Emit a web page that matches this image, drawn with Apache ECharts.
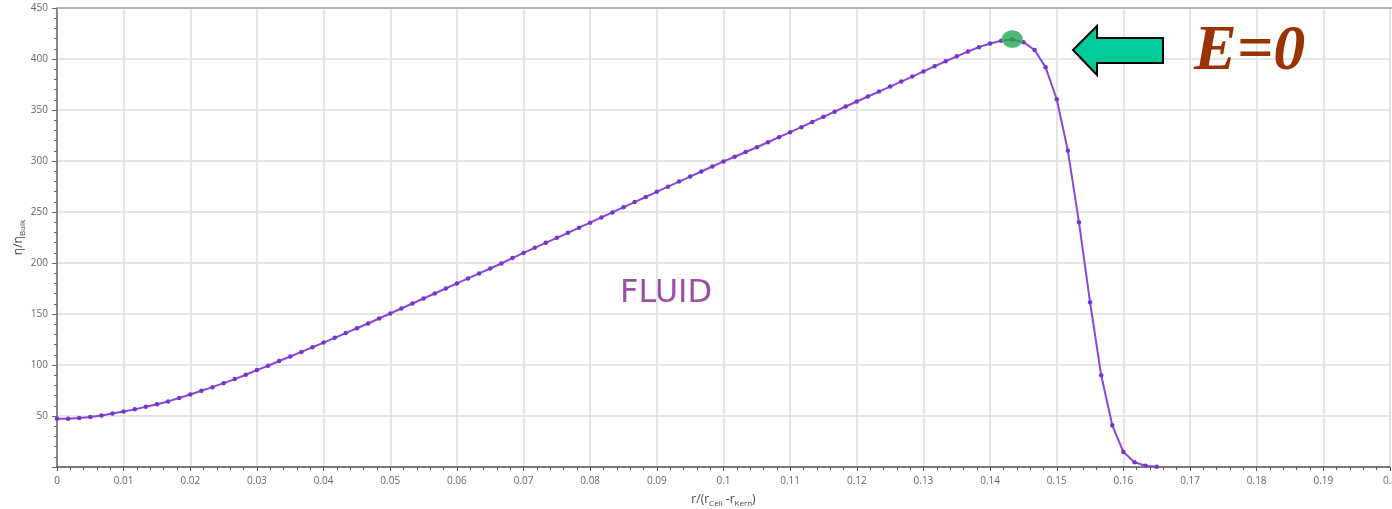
<!DOCTYPE html>
<html>
<head>
<meta charset="utf-8">
<script src="https://cdn.jsdelivr.net/npm/echarts/dist/echarts.min.js"></script>
<style>
html,body{margin:0;padding:0;background:#fff;}
#chart{width:1392px;height:509px;}
</style>
</head>
<body>
<div id="chart"></div>
<script>
// r/(rCell - rKern) sample positions
var rValues = [0, 0.00167, 0.00333, 0.005, 0.00667, 0.00833, 0.01, 0.01167, 0.01333, 0.015,
  0.01667, 0.01833, 0.02, 0.02167, 0.02333, 0.025, 0.02667, 0.02833, 0.03, 0.03167,
  0.03333, 0.035, 0.03667, 0.03833, 0.04, 0.04167, 0.04333, 0.045, 0.04667, 0.04833,
  0.05, 0.05167, 0.05333, 0.055, 0.05667, 0.05833, 0.06, 0.06167, 0.06333, 0.065,
  0.06667, 0.06833, 0.07, 0.07167, 0.07333, 0.075, 0.07667, 0.07833, 0.08, 0.08167,
  0.08333, 0.085, 0.08667, 0.08833, 0.09, 0.09167, 0.09333, 0.095, 0.09667, 0.09833,
  0.1, 0.10167, 0.10333, 0.105, 0.10667, 0.10833, 0.11, 0.11167, 0.11333, 0.115,
  0.11667, 0.11833, 0.12, 0.12167, 0.12333, 0.125, 0.12667, 0.12833, 0.13, 0.13167,
  0.13333, 0.135, 0.13667, 0.13833, 0.14, 0.14167, 0.14333, 0.145, 0.14667, 0.14833,
  0.15, 0.15167, 0.15333, 0.155, 0.15667, 0.15833, 0.16, 0.16167, 0.16333, 0.165];

// eta/eta_Bulk values
var etaValues = [47.2, 47.4, 48.1, 49.1, 50.5, 52.4, 54.4, 56.5, 59.0, 61.6,
  64.3, 67.6, 71.1, 74.7, 78.3, 82.2, 86.2, 90.4, 95.0, 99.3,
  103.9, 108.3, 112.8, 117.4, 122.0, 126.6, 131.3, 136.0, 140.7, 145.6,
  150.5, 155.4, 160.3, 165.2, 170.1, 175.0, 180.0, 184.9, 189.8, 194.6,
  199.5, 204.8, 209.9, 214.9, 219.8, 224.7, 229.6, 234.6, 239.5, 244.7,
  249.6, 254.7, 259.7, 264.7, 269.8, 274.8, 279.8, 284.7, 289.7, 294.6,
  299.6, 304.2, 308.8, 313.5, 318.4, 323.4, 328.3, 333.2, 338.3, 343.3,
  348.4, 353.4, 358.3, 363.2, 368.1, 373.0, 377.9, 382.8, 387.8, 392.8,
  397.8, 402.6, 407.3, 411.6, 415.2, 417.8, 419.2, 416.5, 408.8, 391.8,
  360.5, 310.0, 240.0, 161.5, 89.9, 40.9, 14.7, 4.6, 1.3, 0.3];

// marked point E=0
var eZeroPoint = [0.14333, 419.5];

var xTickInterval = 0.01;
var yTickInterval = 50;

var seriesData = rValues.map(function (r, i) { return [r, etaValues[i]]; });

var chart = echarts.init(document.getElementById('chart'), null, {renderer: 'canvas'});
var fontFam = '"Open Sans", "DejaVu Sans", sans-serif';

chart.setOption({
  animation: false,
  backgroundColor: '#ffffff',
  grid: {left: 57, right: 2, top: 8, bottom: 42, show: false, containLabel: false, outerBoundsMode: 'none'},
  xAxis: {
    type: 'value', min: 0, max: 0.2, interval: xTickInterval,
    name: '{n|r/(r}{s|Cell}{n| -r}{s|Kern}{n|)}',
    nameLocation: 'middle', nameGap: 27,
    nameTextStyle: {
      rich: {
        n: {fontSize: 12, fontFamily: fontFam, color: '#444', lineHeight: 14, verticalAlign: 'top'},
        s: {fontSize: 8, fontFamily: fontFam, color: '#444', lineHeight: 8, padding: [8, 0, 0, 0], verticalAlign: 'bottom'}
      }
    },
    axisLine: {show: true, onZero: false, lineStyle: {color: '#555', width: 1.5}},
    axisTick: {show: true, length: 4, lineStyle: {color: '#555'}},
    minorTick: {show: true, splitNumber: 5, length: 3, lineStyle: {color: '#555'}},
    axisLabel: {
      margin: 9, fontSize: 10, color: '#666', fontFamily: fontFam,
      formatter: function (v) { return String(+v.toFixed(2)); }
    },
    splitLine: {show: true, lineStyle: {color: '#dcdcdc', width: 1.5}}
  },
  yAxis: {
    type: 'value', min: 0, max: 450, interval: yTickInterval,
    name: '{n|η/η}{s|Bulk}',
    nameLocation: 'middle', nameGap: 30, nameRotate: 90, nameMoveOverlap: false,
    nameTextStyle: {
      rich: {
        n: {fontSize: 12, fontFamily: fontFam, color: '#444', lineHeight: 14, verticalAlign: 'top'},
        s: {fontSize: 8, fontFamily: fontFam, color: '#444', lineHeight: 8, padding: [8, 0, 0, 0], verticalAlign: 'bottom'}
      }
    },
    axisLine: {show: true, lineStyle: {color: '#888', width: 2}},
    axisTick: {show: true, length: 5, lineStyle: {color: '#666'}},
    minorTick: {show: true, splitNumber: 5, length: 3, lineStyle: {color: '#666'}},
    axisLabel: {
      margin: 9, fontSize: 10, color: '#666', fontFamily: fontFam,
      formatter: function (v) { return v === 0 ? '' : String(v); }
    },
    splitLine: {show: true, lineStyle: {color: '#dcdcdc', width: 1.5}}
  },
  series: [
    {
      type: 'line',
      data: seriesData,
      symbol: 'circle', symbolSize: 4.5,
      showSymbol: true,
      lineStyle: {color: '#8b48d8', width: 2},
      itemStyle: {color: '#7636c8'},
      z: 3
    },
    {
      type: 'scatter',
      data: [eZeroPoint],
      symbol: 'circle', symbolSize: [20, 17],
      itemStyle: {color: '#22a64e', borderColor: '#49c070', borderWidth: 1},
      z: 5
    }
  ],
  graphic: [
    {
      type: 'line', shape: {x1: 57, y1: 8, x2: 1392, y2: 8},
      style: {stroke: '#b5b5b5', lineWidth: 2}, z: 1
    },
    {
      type: 'text', left: 620, top: 278,
      style: {text: 'FLUID', fill: '#9b50a5', font: '32px "DejaVu Sans", sans-serif'}
    },
    {
      type: 'polygon',
      shape: {points: [[1073, 50], [1097, 26], [1097, 38], [1163, 38], [1163, 63], [1097, 63], [1097, 75]]},
      style: {fill: '#00cc99', stroke: '#000', lineWidth: 2}, z: 10
    },
    {
      type: 'text', x: 1194, y: 52,
      style: {text: 'E=0', fill: '#993300', font: 'italic bold 64px "Liberation Serif", "Times New Roman", serif', verticalAlign: 'middle', align: 'left'},
      z: 10
    }
  ]
});
</script>
</body>
</html>
